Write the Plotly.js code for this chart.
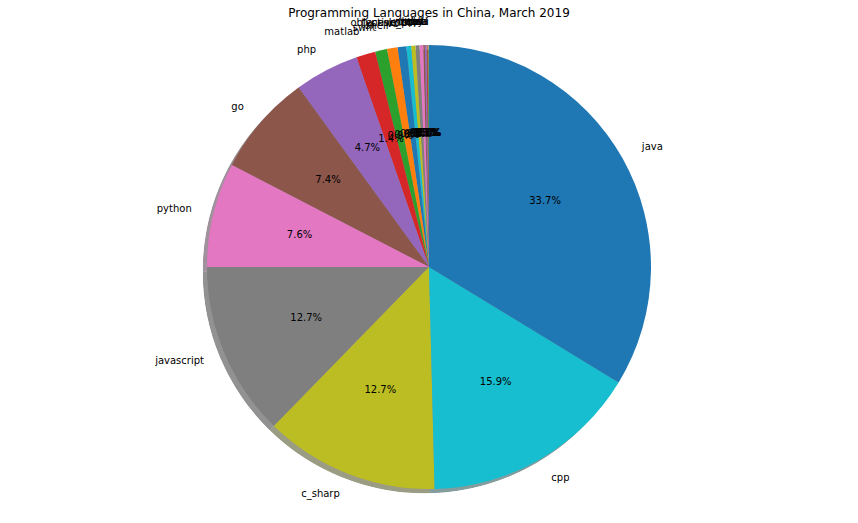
<!DOCTYPE html>
<html>
<head>
<meta charset="utf-8">
<script src="https://cdn.plot.ly/plotly-3.0.1.min.js"></script>
<style>html,body{margin:0;padding:0;background:#fff;}#chart{width:858px;height:523px;}</style>
</head>
<body>
<div id="chart"></div>
<script>
// Data (sorted ascending, drawn counterclockwise from 12 o'clock)
var languages = ['delphi','lua','perl','scala','rust','ruby','r','kotlin','typescript','objective_c','vb','shell','swift','matlab','php','go','python','javascript','c_sharp','cpp','java'];
var shares = [0.03,0.03,0.05,0.07,0.12,0.12,0.27,0.29,0.31,0.34,0.64,0.77,0.86,1.4,4.7,7.4,7.6,12.7,12.7,15.9,33.7];
var chartTitle = 'Programming Languages in China, March 2019';

// Styles
var palette = ['#1f77b4','#ff7f0e','#2ca02c','#d62728','#9467bd','#8c564b','#e377c2','#7f7f7f','#bcbd22','#17becf'];
function hexToRgb(h){return [parseInt(h.substr(1,2),16),parseInt(h.substr(3,2),16),parseInt(h.substr(5,2),16)];}
var sliceColors = languages.map(function(_, i){return palette[i % 10];});
var shadowColors = sliceColors.map(function(c){var r=hexToRgb(c);return 'rgba('+Math.round(r[0]*0.3)+','+Math.round(r[1]*0.3)+','+Math.round(r[2]*0.3)+',0.5)';});

var W = 858, H = 523;
var cy = 267, R = 222, shOff = 4.4, rMax = 1.15;
var domMain = {x:[0.1, 0.9], y:[(H-cy-R*rMax)/H, (H-cy+R*rMax)/H]};
var domShadow = {x:[0.2-shOff/W, 0.8-shOff/W], y:[(H-cy-R-shOff)/H, (H-cy+R-shOff)/H]};

var font = 'DejaVu Sans, sans-serif';

// Wedge geometry from the data (degrees, counterclockwise from 3 o'clock, first wedge starts at 12 o'clock)
var total = shares.reduce(function(a,b){return a+b;},0);
var midAngles = [], widths = [], cum = 0;
shares.forEach(function(s){ midAngles.push(90 + 360*(cum + s/2)/total); widths.push(360*s/total); cum += s; });
var pctText = shares.map(function(s){return (s/total*100).toFixed(1)+'%';});
var labelPos = midAngles.map(function(a){return Math.cos(a*Math.PI/180) > 0 ? 'middle right' : 'middle left';});
var ones = shares.map(function(){return 1;});

var shadow = {
  type:'barpolar', subplot:'polar', r:ones, theta:midAngles, width:widths, thetaunit:'degrees',
  marker:{color:shadowColors, line:{width:0}}, hoverinfo:'skip', showlegend:false
};
var wedges = {
  type:'barpolar', subplot:'polar2', r:ones, theta:midAngles, width:widths, thetaunit:'degrees',
  marker:{color:sliceColors, line:{width:0}}, hoverinfo:'skip', showlegend:false
};
var pctTrace = {
  type:'scatterpolar', mode:'text', subplot:'polar2',
  r: shares.map(function(){return 0.6;}), theta: midAngles, thetaunit:'degrees',
  text: pctText, textposition:'middle center', cliponaxis:false,
  textfont:{family:font, size:10, color:'#000'}, hoverinfo:'skip', showlegend:false
};
var labelTrace = {
  type:'scatterpolar', mode:'text', subplot:'polar2',
  r: shares.map(function(){return 1.1;}), theta: midAngles, thetaunit:'degrees',
  text: languages, textposition: labelPos, cliponaxis:false,
  textfont:{family:font, size:10, color:'#000'}, hoverinfo:'skip', showlegend:false
};

var hiddenRadial = {visible:false, showgrid:false, showline:false, showticklabels:false, ticks:''};
var hiddenAngular = {rotation:0, direction:'counterclockwise', visible:false, showgrid:false, showline:false, showticklabels:false, ticks:''};

var layout = {
  width:W, height:H,
  margin:{l:0,r:0,t:0,b:0},
  paper_bgcolor:'#fff',
  plot_bgcolor:'#fff',
  showlegend:false,
  polar:{
    domain: domShadow, bgcolor:'rgba(0,0,0,0)', bargap:0,
    radialaxis:Object.assign({range:[0,1]}, hiddenRadial),
    angularaxis:Object.assign({}, hiddenAngular)
  },
  polar2:{
    domain: domMain, bgcolor:'rgba(0,0,0,0)', bargap:0,
    radialaxis:Object.assign({range:[0,rMax]}, hiddenRadial),
    angularaxis:Object.assign({}, hiddenAngular)
  },
  title:{text:chartTitle, x:0.5, xanchor:'center', xref:'paper', y:1-13/H, yanchor:'middle', yref:'container', font:{family:font, size:12, color:'#000'}}
};

Plotly.newPlot('chart', [shadow, wedges, pctTrace, labelTrace], layout, {staticPlot:true, displayModeBar:false});
</script>
</body>
</html>
